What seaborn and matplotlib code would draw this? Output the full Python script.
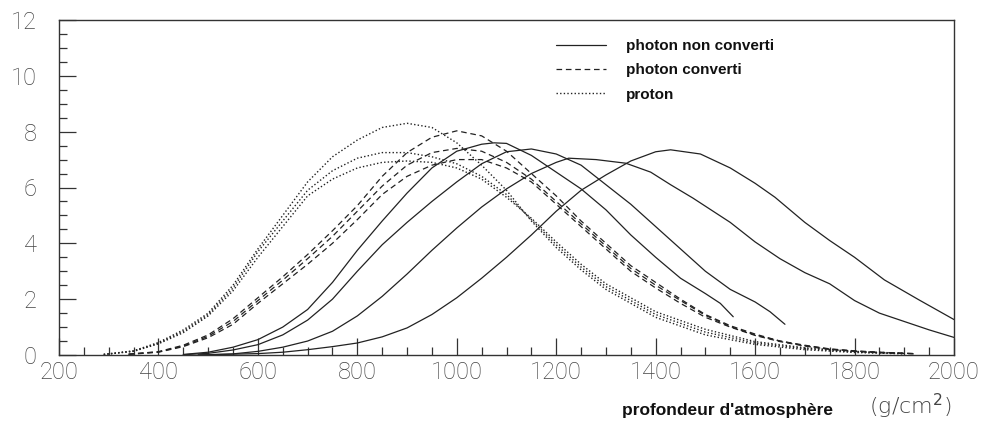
import matplotlib
matplotlib.use("Agg")
import matplotlib.pyplot as plt
import seaborn as sns
import numpy as np
from matplotlib.ticker import MultipleLocator

# ---------------- data ----------------
legend_labels = ["photon non converti", "photon converti", "proton"]

# photon non converti (solid)
s1_x = [450, 500, 550, 600, 650, 700, 750, 800, 850, 900, 950, 1000, 1050, 1075, 1100, 1150, 1200, 1250, 1300, 1350, 1400, 1450, 1500, 1530, 1556]
s1_y = [0.02, 0.1, 0.28, 0.55, 1.0, 1.63, 2.6, 3.75, 4.8, 5.8, 6.7, 7.3, 7.55, 7.6, 7.58, 7.15, 6.55, 5.95, 5.2, 4.3, 3.5, 2.75, 2.2, 1.85, 1.37]
s2_x = [450, 500, 550, 600, 650, 700, 750, 800, 850, 900, 950, 1000, 1050, 1100, 1150, 1200, 1250, 1300, 1350, 1400, 1450, 1500, 1550, 1600, 1630, 1660]
s2_y = [0.01, 0.06, 0.18, 0.37, 0.72, 1.25, 2.0, 3.0, 3.95, 4.75, 5.5, 6.2, 6.85, 7.28, 7.38, 7.2, 6.8, 6.1, 5.4, 4.6, 3.8, 3.0, 2.35, 1.9, 1.55, 1.1]
s3_x = [480, 550, 600, 650, 700, 750, 800, 850, 900, 950, 1000, 1050, 1100, 1150, 1200, 1225, 1280, 1340, 1390, 1430, 1475, 1550, 1600, 1650, 1700, 1750, 1800, 1850, 1900, 1950, 2000]
s3_y = [0.0, 0.04, 0.13, 0.28, 0.5, 0.85, 1.4, 2.1, 2.9, 3.75, 4.55, 5.3, 5.95, 6.5, 6.9, 7.05, 7.0, 6.87, 6.55, 6.1, 5.62, 4.75, 4.05, 3.45, 2.95, 2.55, 1.95, 1.5, 1.2, 0.9, 0.63]
s4_x = [480, 550, 600, 650, 700, 750, 800, 850, 900, 950, 1000, 1050, 1100, 1150, 1200, 1250, 1300, 1350, 1400, 1430, 1490, 1550, 1600, 1640, 1700, 1750, 1800, 1860, 1930, 2000]
s4_y = [0.0, 0.03, 0.05, 0.1, 0.19, 0.3, 0.43, 0.65, 0.97, 1.45, 2.05, 2.75, 3.5, 4.3, 5.15, 5.9, 6.45, 6.95, 7.28, 7.35, 7.2, 6.7, 6.15, 5.65, 4.75, 4.1, 3.5, 2.69, 1.97, 1.27]

# photon converti (dashed)
d_x = [340, 400, 450, 500, 550, 600, 650, 700, 750, 800, 850, 900, 950, 1000, 1050, 1100, 1150, 1200, 1250, 1300, 1350, 1400, 1450, 1500, 1550, 1600, 1650, 1700, 1750, 1800, 1850, 1920]
d1_y = [0.03, 0.12, 0.35, 0.72, 1.3, 2.05, 2.8, 3.6, 4.45, 5.35, 6.4, 7.25, 7.8, 8.03, 7.85, 7.3, 6.5, 5.7, 4.8, 4.0, 3.2, 2.6, 2.0, 1.45, 1.05, 0.75, 0.5, 0.35, 0.22, 0.15, 0.1, 0.05]
d2_y = [0.03, 0.11, 0.32, 0.67, 1.2, 1.95, 2.68, 3.45, 4.25, 5.15, 6.05, 6.8, 7.25, 7.4, 7.3, 6.9, 6.3, 5.5, 4.7, 3.9, 3.1, 2.5, 1.95, 1.42, 1.02, 0.72, 0.5, 0.33, 0.21, 0.14, 0.09, 0.05]
d3_y = [0.02, 0.1, 0.3, 0.62, 1.1, 1.85, 2.55, 3.25, 4.0, 4.85, 5.75, 6.4, 6.8, 7.0, 7.0, 6.7, 6.2, 5.4, 4.6, 3.8, 3.0, 2.4, 1.85, 1.35, 1.0, 0.7, 0.48, 0.32, 0.2, 0.13, 0.08, 0.04]

# proton (dotted)
p_x = [290, 350, 400, 450, 500, 550, 600, 650, 700, 750, 800, 850, 900, 950, 1000, 1050, 1100, 1150, 1200, 1250, 1300, 1400, 1500, 1600, 1700, 1800, 1900]
p1_y = [0.02, 0.15, 0.45, 0.9, 1.5, 2.5, 3.8, 5.0, 6.2, 7.1, 7.7, 8.15, 8.3, 8.15, 7.6, 6.8, 5.9, 4.8, 3.85, 3.05, 2.35, 1.35, 0.72, 0.38, 0.19, 0.09, 0.04]
p2_y = [0.02, 0.14, 0.42, 0.85, 1.45, 2.4, 3.7, 4.8, 5.9, 6.6, 7.05, 7.25, 7.25, 7.1, 6.85, 6.4, 5.75, 4.85, 3.95, 3.15, 2.45, 1.45, 0.82, 0.43, 0.23, 0.11, 0.05]
p3_y = [0.02, 0.13, 0.4, 0.8, 1.4, 2.3, 3.5, 4.6, 5.7, 6.3, 6.7, 6.9, 6.95, 6.9, 6.7, 6.3, 5.65, 4.9, 4.05, 3.25, 2.55, 1.55, 0.92, 0.48, 0.26, 0.13, 0.06]

x_ticks = [200, 400, 600, 800, 1000, 1200, 1400, 1600, 1800, 2000]
y_ticks = [0, 2, 4, 6, 8, 10, 12]

# ---------------- figure ----------------
sns.set_theme(style="white")
plt.rcParams["font.family"] = ["DejaVu Sans"]

fig = plt.figure(figsize=(9.85, 4.21), dpi=100)
ax = fig.add_axes([59 / 985, 1 - 355 / 421, (954 - 59) / 985, (355 - 20) / 421])

lc = "#222222"
lw = 0.9
solid_style = "-"
dash_style = (0, (4.5, 3.0))
dot_style = (0, (1.0, 1.6))

solid_curves = [(s1_x, s1_y), (s2_x, s2_y), (s3_x, s3_y), (s4_x, s4_y)]
for i, (xs, ys) in enumerate(solid_curves):
    sns.lineplot(x=xs, y=ys, ax=ax, color=lc, lw=lw, linestyle=solid_style,
                 sort=False, estimator=None,
                 label=legend_labels[0] if i == 0 else None)
for i, ys in enumerate([d1_y, d2_y, d3_y]):
    sns.lineplot(x=d_x, y=ys, ax=ax, color=lc, lw=lw, linestyle=dash_style,
                 sort=False, estimator=None,
                 label=legend_labels[1] if i == 0 else None)
for i, ys in enumerate([p1_y, p2_y, p3_y]):
    sns.lineplot(x=p_x, y=ys, ax=ax, color=lc, lw=1.0, linestyle=dot_style,
                 sort=False, estimator=None,
                 label=legend_labels[2] if i == 0 else None)

ax.set_xlim(200, 2000)
ax.set_ylim(0, 12)
ax.set_xticks(x_ticks)
ax.set_yticks(y_ticks)
ax.xaxis.set_minor_locator(MultipleLocator(50))
ax.yaxis.set_minor_locator(MultipleLocator(0.5))
ax.tick_params(which="major", direction="in", length=12, width=0.9, color="#333333",
               labelsize=17, labelcolor="#444444", pad=4,
               bottom=True, left=True, top=False, right=False)
ax.tick_params(which="minor", direction="in", length=6, width=0.9, color="#333333",
               bottom=True, left=True, top=False, right=False)
ax.tick_params(axis="y", which="major", pad=16)
for lab in ax.get_xticklabels() + ax.get_yticklabels():
    lab.set_family("Roboto")
    lab.set_fontweight("light")
for sp in ax.spines.values():
    sp.set_visible(True)
    sp.set_color("#333333")
    sp.set_linewidth(1.0)
ax.set_xlabel("")
ax.set_ylabel("")
ax.grid(False)

leg = ax.legend(loc="upper left", bbox_to_anchor=(556 / 985, 1 - 39 / 421),
                bbox_transform=fig.transFigure, frameon=False,
                borderpad=0, borderaxespad=0, handlelength=3.3,
                handletextpad=1.3, labelspacing=0.68,
                prop={"family": "Liberation Sans", "size": 11, "weight": "bold"})
for t in leg.get_texts():
    t.set_color("#111111")

fig.text(727 / 985, 1 - 410 / 421, "profondeur d'atmosphère", ha="center", va="center",
         fontsize=12.5, family="Liberation Sans", fontweight="bold", color="#111111")
fig.text(910 / 985, 1 - 406 / 421, r"(g/cm$^2$)", ha="center", va="center",
         fontsize=16, color="#444444", fontweight="light")

fig.savefig("out.png", dpi=100, facecolor="white")
